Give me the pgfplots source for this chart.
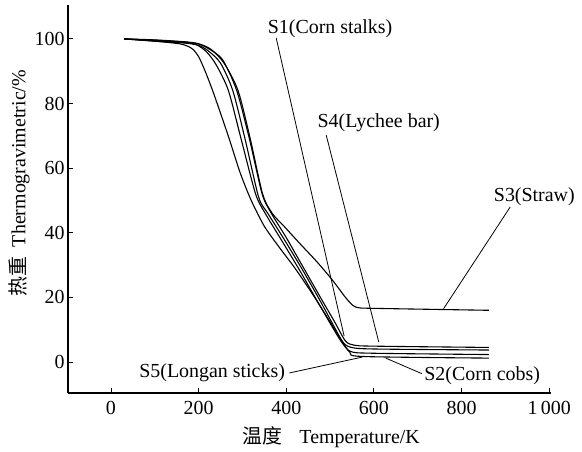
\documentclass[border=0pt]{standalone}
\usepackage{pgfplots}
\pgfplotsset{compat=1.18}
\usepackage{fontspec}
\setmainfont{Liberation Serif}
\newfontfamily\cjk{Noto Sans CJK SC}

\newcommand{\lblfont}{\fontsize{20}{22}\selectfont}

\begin{document}
\begin{tikzpicture}
\begin{axis}[
    scale only axis,
    width  = 483bp,
    height = 388bp,
    axis lines = left,
    axis line style = {line width=1.1pt, -},
    xmin = -98, xmax = 1004,
    ymin = -9.6, ymax = 110.5,
    xtick = {0,200,400,600,800,1000},
    xticklabels = {0,200,400,600,800,1\,000},
    ytick = {0,20,40,60,80,100},
    tick align = inside,
    major tick length = 5bp,
    tick style = {line width=0.9pt, black},
    tick label style = {font=\lblfont},
    xticklabel style = {yshift=-5bp},
    /pgf/number format/assume math mode=true,
    xlabel = {{\cjk 温度}\hspace{0.85em}Temperature/K},
    ylabel = {{\cjk 热重}\ \ Thermogravimetric/\%},
    label style = {font=\lblfont},
    xlabel style = {at={(ticklabel cs:0.545)}, yshift=-5bp},
    ylabel style = {at={(ticklabel cs:0.54)}, yshift=-2bp},
    clip = false,
    cycle list = {{black}},
    every axis plot post/.append style = {line width=1.1pt, smooth, tension=0.45, mark=none},
]
\coordinate (O) at (rel axis cs:0,0);

% S1 Corn stalks
\addplot coordinates {
 (30,100)(100,99.6)(170,99)(200,98.4)(225,96.8)(255,93.5)(287,84)(316,69)
 (345,52)(366,46)(400,38.5)(440,29)(480,19.5)(510,12.5)(535,6.5)(555,5.2)(600,4.9)(862,4.5)};
% S2 Corn cobs
\addplot coordinates {
 (30,100)(100,99.5)(170,98.8)(195,98.2)(218,96)(240,92)(268,84)(297,69)
 (330,52)(352,46)(390,37.5)(430,28.5)(470,19)(500,12)(527,6)(548,3.2)(600,2.7)(862,2.3)};
% S3 Straw
\addplot coordinates {
 (30,100)(100,99.7)(170,99.1)(200,98.5)(228,96.8)(258,92.5)(290,84)(318,69)
 (346,52)(368,46)(395,42)(430,36.8)(470,31)(505,25.4)(535,20)(552,17.5)(565,16.8)(600,16.6)(862,16)};
% S4 Lychee bar
\addplot coordinates {
 (30,100)(100,99.3)(170,98.7)(200,98)(222,96.3)(250,92.5)(278,84)(306,69)
 (337,51)(358,46)(395,38)(435,29)(475,19.5)(505,12)(530,6)(552,4.4)(610,4)(862,3.7)};
% S5 Longan sticks
\addplot coordinates {
 (30,100)(100,99.3)(160,98.4)(185,97)(200,94.5)(215,90)(232,84)(250,77)(270,69)
 (295,58.5)(320,50)(350,42)(384,35.5)(420,29)(460,21)(495,13.5)(525,7)(545,3)(575,1.7)(862,1.2)};

% leader lines and labels
\draw[line width=0.8pt] (axis cs:377,100.3) -- (axis cs:532,8);
\node[font=\lblfont, anchor=south] at (axis cs:500,99.3) {S1(Corn stalks)};
\draw[line width=0.8pt] (axis cs:491,70.3) -- (axis cs:611,6.2);
\node[font=\lblfont, anchor=south] at (axis cs:611,70.3) {S4(Lychee bar)};
\draw[line width=0.8pt] (axis cs:911,48) -- (axis cs:759,16.5);
\node[font=\lblfont, anchor=south] at (axis cs:966,47.3) {S3(Straw)};
\draw[line width=0.8pt] (axis cs:407,-3.4) -- (axis cs:573,1.5);
\node[font=\lblfont, anchor=east] at (axis cs:405,-3.4) {S5(Longan sticks)};
\draw[line width=0.8pt] (axis cs:709,-3.6) -- (axis cs:627,1.2);
\node[font=\lblfont, anchor=west] at (axis cs:707,-4.2) {S2(Corn cobs)};
\end{axis}
\path (O) ++(-68bp,-57bp) rectangle ++(582bp,450bp);
\end{tikzpicture}
\end{document}
